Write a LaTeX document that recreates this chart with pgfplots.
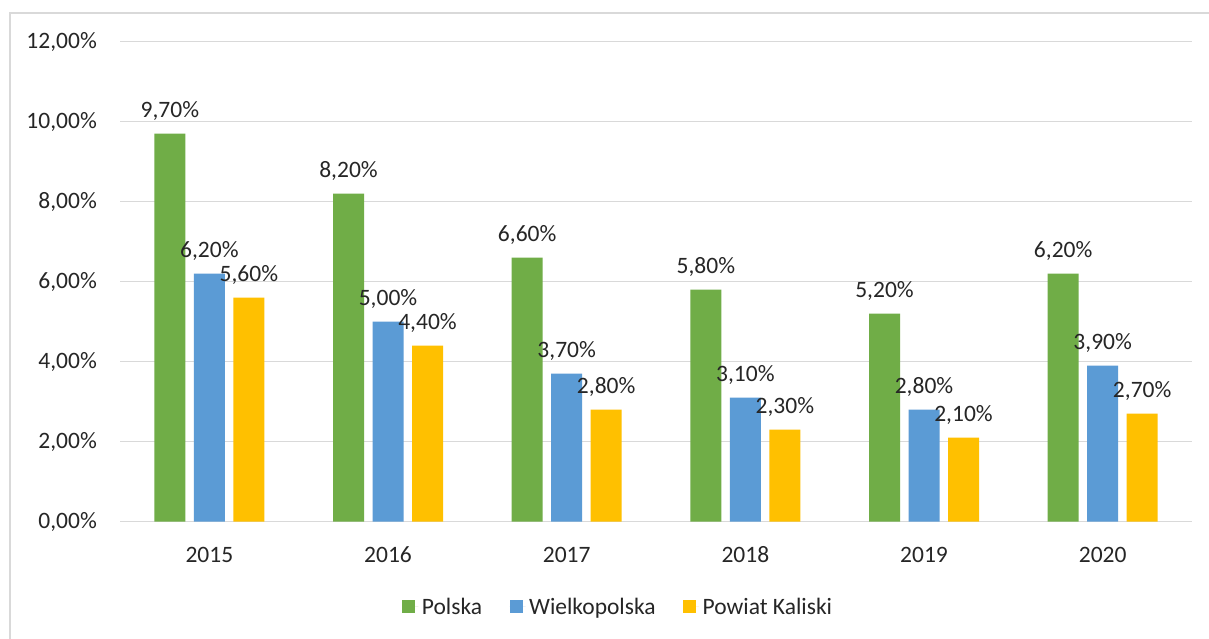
\documentclass[border=0pt]{standalone}
\usepackage{fontspec}
\setmainfont{Carlito}
\usepackage{pgfplots}
\pgfplotsset{compat=1.18}
\definecolor{cgreen}{HTML}{70AD47}
\definecolor{cblue}{HTML}{5B9BD5}
\definecolor{cyellow}{HTML}{FFC000}
\definecolor{cgrid}{HTML}{D9D9D9}
\definecolor{ctext}{HTML}{262626}
\newcommand\fs{\fontsize{23.5pt}{28pt}\selectfont}
\begin{document}
\begin{tikzpicture}
\useasboundingbox (0,0) rectangle (1209pt,-639pt);
\fill[white] (0,0) rectangle (1209pt,-639pt);
\draw[cgrid, line width=2pt] (10pt,-639pt) -- (10pt,-13pt) -- (1209pt,-13pt);
\begin{axis}[
  at={(120pt,-521.5pt)}, anchor=south west,
  scale only axis, width=1072pt, height=480pt,
  ybar=8.5pt, bar width=31pt,
  xmin=-0.5, xmax=5.5, ymin=0, ymax=12,
  xtick={0,1,2,3,4,5},
  xticklabels={2015,2016,2017,2018,2019,2020},
  ytick={0,2,4,6,8,10,12},
  ymajorgrids, grid style={cgrid, line width=1.5pt},
  axis line style={draw=none},
  major tick length=0pt,
  clip=false,
  /pgf/number format/assume math mode=true,
  yticklabel={\pgfmathprintnumber[fixed,fixed zerofill,precision=2,use comma]{\tick}\%},
  yticklabel style={anchor=east, inner sep=0pt, xshift=-23pt, font=\fs, text=ctext},
  xticklabel style={anchor=base, inner sep=0pt, yshift=-41pt, font=\fs, text=ctext},
  nodes near coords={\pgfmathprintnumber[fixed,fixed zerofill,precision=2,use comma]{\pgfplotspointmeta}\%},
  every node near coord/.append style={anchor=base, yshift=16pt, inner sep=0pt, font=\fs, text=ctext},
  legend columns=3,
  legend style={at={(0.4655,-0.178)}, anchor=center, draw=none, fill=none, font=\fs, text=ctext,
    nodes={inner sep=3.5pt},
    /tikz/every even column/.append style={column sep=24pt}},
  legend image code/.code={\fill[#1] (0pt,-6.5pt) rectangle (13pt,6.5pt); \path (0pt,0pt) -- (16pt,0pt);},
]
\addplot[fill=cgreen, draw=none] coordinates {(0,9.7) (1,8.2) (2,6.6) (3,5.8) (4,5.2) (5,6.2)};
\addplot[fill=cblue, draw=none] coordinates {(0,6.2) (1,5.0) (2,3.7) (3,3.1) (4,2.8) (5,3.9)};
\addplot[fill=cyellow, draw=none] coordinates {(0,5.6) (1,4.4) (2,2.8) (3,2.3) (4,2.1) (5,2.7)};
\legend{Polska, Wielkopolska, Powiat Kaliski}
\end{axis}
\end{tikzpicture}
\end{document}
